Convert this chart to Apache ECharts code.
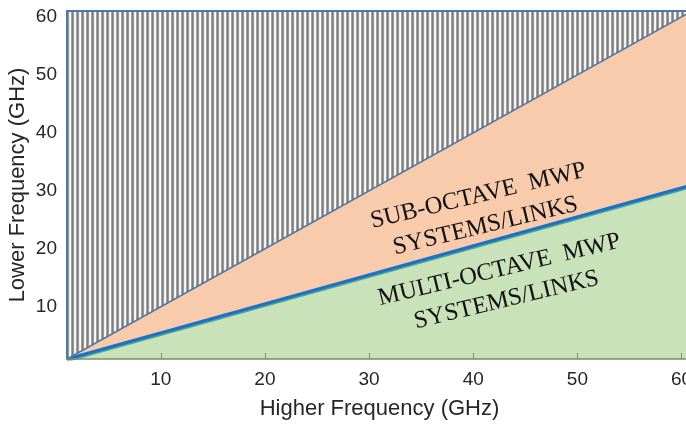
<!DOCTYPE html>
<html>
<head>
<meta charset="utf-8">
<script src="https://cdn.jsdelivr.net/npm/echarts@6/dist/echarts.min.js"></script>
<style>
  html, body { margin: 0; padding: 0; background: #fff; }
  #chart { width: 686px; height: 424px; }
</style>
</head>
<body>
<div id="chart"></div>
<script>
// Frequency plane: higher frequency (x) against lower frequency (y), in GHz
const higherFreq = [1, 61];
const upperLimit = [1, 61];     // lower = higher (diagonal)
const octaveLimit = [1, 31];    // one-octave boundary
const tickValues = [10, 20, 30, 40, 50, 60];

const subLabel = 'SUB-OCTAVE  MWP\nSYSTEMS/LINKS';
const multiLabel = 'MULTI-OCTAVE  MWP\nSYSTEMS/LINKS';

// vertical stripe pattern for the forbidden region (lower > higher)
function stripePattern() {
  const c = document.createElement('canvas');
  c.width = 5; c.height = 4;
  const ctx = c.getContext('2d');
  const cols = ['#ffffff', '#a0a0a0', '#7e7e7e', '#9a9a9a', '#eeeeee'];
  cols.forEach((col, i) => { ctx.fillStyle = col; ctx.fillRect(i, 0, 1, 4); });
  return { image: c, repeat: 'repeat' };
}

const pairs = (xs, ys) => xs.map((x, i) => [x, ys[i]]);

const chart = echarts.init(document.getElementById('chart'), null, { renderer: 'canvas' });

const textColor = '#262626';
const frameColor = '#4f78a6';
const sansFont = 'Liberation Sans';

chart.setOption({
  animation: false,
  grid: { left: 67, top: 11, right: -6, bottom: 65, containLabel: false, outerBoundsMode: 'none' },
  xAxis: [{
    type: 'value', min: 1, max: 61, z: 5,
    name: 'Higher Frequency (GHz)', nameLocation: 'middle', nameGap: 39,
    nameTextStyle: { fontFamily: sansFont, fontSize: 22, color: textColor },
    axisLine: { show: true, lineStyle: { color: '#76906a', width: 1.5 } },
    axisTick: { show: true, inside: true, length: 6, customValues: tickValues, lineStyle: { color: '#76906a' } },
    axisLabel: { customValues: tickValues, margin: 11, fontFamily: sansFont, fontSize: 19, color: textColor },
    splitLine: { show: false }
  }, {
    type: 'value', min: 1, max: 61, position: 'top', z: 5,
    axisLine: { show: true, lineStyle: { color: frameColor, width: 2 } },
    axisTick: { show: false }, axisLabel: { show: false }, splitLine: { show: false }
  }],
  yAxis: {
    type: 'value', min: 1, max: 61, z: 5,
    name: 'Lower Frequency (GHz)', nameLocation: 'middle', nameGap: 38, nameMoveOverlap: false,
    nameTextStyle: { fontFamily: sansFont, fontSize: 22, color: textColor },
    axisLine: { show: true, lineStyle: { color: frameColor, width: 2 } },
    axisTick: { show: false },
    axisLabel: { customValues: tickValues, margin: 10, fontFamily: sansFont, fontSize: 19, color: textColor },
    splitLine: { show: false }
  },
  series: [
    {
      // sub-octave band, filled down to the axis
      type: 'line', z: 1, symbol: 'none', silent: true,
      data: pairs(higherFreq, upperLimit),
      lineStyle: { width: 0 },
      areaStyle: { origin: 'start', color: '#f8cbad', opacity: 1 }
    },
    {
      // multi-octave band below the octave boundary
      type: 'line', z: 2, symbol: 'none', silent: true,
      data: pairs(higherFreq, octaveLimit),
      lineStyle: { width: 3, color: '#1f6fc2', shadowColor: '#46a89c', shadowOffsetY: 1.6, shadowBlur: 0 },
      areaStyle: { origin: 'start', color: '#c9e2b9', opacity: 1, shadowColor: 'transparent' }
    },
    {
      // region above the diagonal, striped
      type: 'line', z: 3, symbol: 'none', silent: true,
      data: pairs(higherFreq, upperLimit),
      lineStyle: { width: 1.5, color: frameColor },
      areaStyle: { origin: 'end', color: stripePattern(), opacity: 1 }
    }
  ],
  graphic: [
    {
      type: 'text', x: 482, y: 211, rotation: 13.5 * Math.PI / 180, z: 100,
      style: { text: subLabel, fill: '#111', font: '24.5px "Liberation Serif"', align: 'center', verticalAlign: 'middle', lineHeight: 31 }
    },
    {
      type: 'text', x: 503, y: 285, rotation: 13.5 * Math.PI / 180, z: 100,
      style: { text: multiLabel, fill: '#111', font: '24.5px "Liberation Serif"', align: 'center', verticalAlign: 'middle', lineHeight: 31 }
    }
  ]
});
</script>
</body>
</html>
